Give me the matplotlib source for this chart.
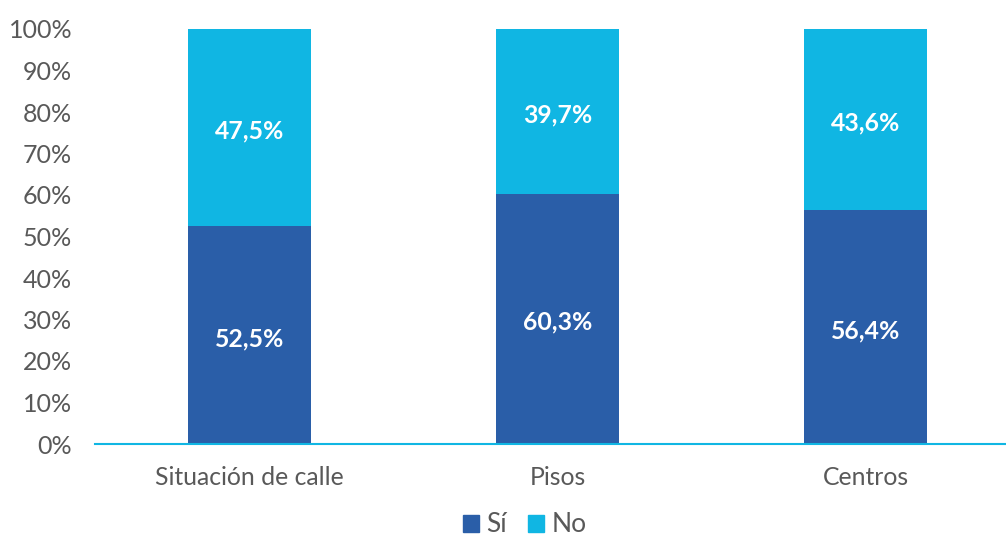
import matplotlib
matplotlib.use("Agg")
import matplotlib.pyplot as plt
from matplotlib.patches import Patch

categories = ["Situación de calle", "Pisos", "Centros"]
si_values = [52.5, 60.3, 56.4]
no_values = [47.5, 39.7, 43.6]
si_labels = ["52,5%", "60,3%", "56,4%"]
no_labels = ["47,5%", "39,7%", "43,6%"]
yticks = [0, 10, 20, 30, 40, 50, 60, 70, 80, 90, 100]
ytick_labels = [f"{v}%" for v in yticks]

plt.rcParams['font.family'] = ['Lato', 'DejaVu Sans']
c_si = "#2a5ea8"
c_no = "#10b6e3"
gray = "#595959"

fig = plt.figure(figsize=(10.06, 5.38), dpi=100)
ax = fig.add_axes([95/1006, 94/538, (1006-95)/1006, (444-29)/538])

x = list(range(len(categories)))
w = 0.4
ax.bar(x, si_values, width=w, color=c_si, zorder=2)
ax.bar(x, no_values, width=w, bottom=si_values, color=c_no, zorder=2)

for i in x:
    ax.annotate(si_labels[i], (i, si_values[i] / 2), xytext=(0, -2.5),
                textcoords="offset points", ha="center", va="center",
                color="white", fontsize=17.8, fontweight="bold")
    ax.annotate(no_labels[i], (i, si_values[i] + no_values[i] / 2), xytext=(0, -2.5),
                textcoords="offset points", ha="center", va="center",
                color="white", fontsize=17.8, fontweight="bold")

ax.set_xlim(-0.502, 2.456)
ax.set_ylim(0, 100)
ax.set_yticks(yticks)
ax.set_yticklabels(ytick_labels)
ax.set_xticks(x)
ax.set_xticklabels(categories)
ax.tick_params(axis="y", length=0, labelsize=18, labelcolor=gray, pad=16.5)
ax.tick_params(axis="x", length=0, labelsize=17.8, labelcolor=gray, pad=16)
for s in ["top", "right", "left"]:
    ax.spines[s].set_visible(False)
ax.spines["bottom"].set_color("#10b6e3")
ax.spines["bottom"].set_linewidth(1.5)
ax.spines["bottom"].set_zorder(3)

handles = [Patch(color=c_si, label="Sí"), Patch(color=c_no, label="No")]
fig.legend(handles=handles, loc="center", bbox_to_anchor=(525/1006, 1 - 525/538),
           ncol=2, frameon=False, fontsize=19, labelcolor=gray,
           handlelength=0.6, handleheight=0.6, handletextpad=0.3, columnspacing=0.8,
           borderpad=0.1)

fig.savefig("out.png", dpi=100)
